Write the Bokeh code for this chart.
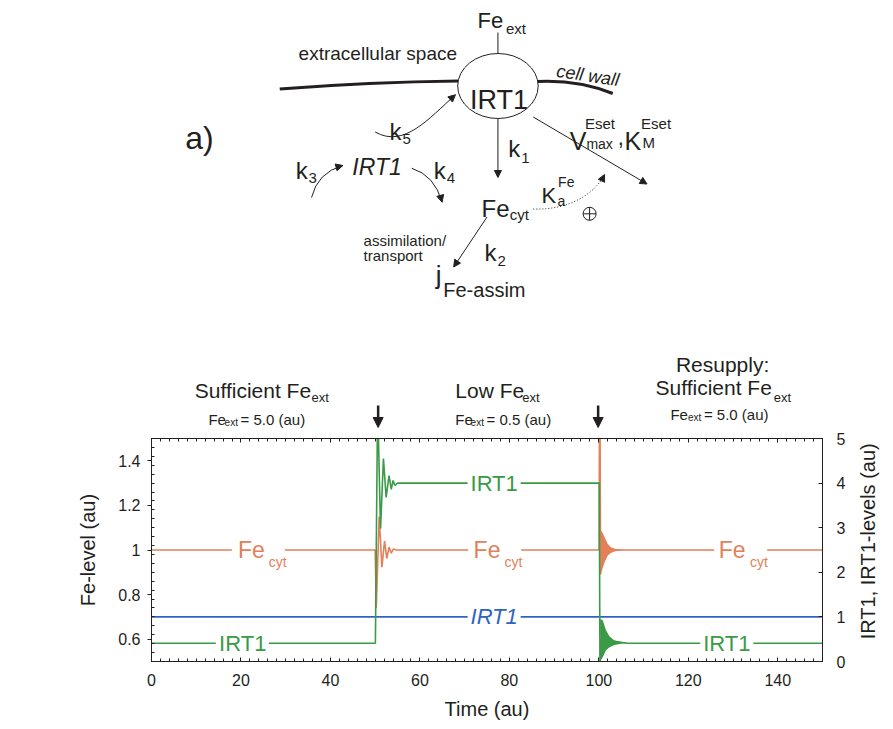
import math
from bokeh.plotting import figure
from bokeh.models import (Range1d, LinearAxis, FixedTicker, CustomJSTickFormatter,
                          Label, Arrow, NormalHead)
from bokeh.layouts import column
from bokeh.embed import file_html
from bokeh.resources import INLINE

# ---------------- data ----------------
# cytosolic iron (left axis, Fe-level)
TIME_FE = [0, 50.0, 50.25, 50.9, 51.5, 52.1, 52.6, 53.1, 53.6, 54.1, 54.7,
           100.05, 100.2, 100.4, 100.5, 150]
FE_CYT = [1.0, 1.0, 0.74, 1.15, 0.923, 1.04, 0.962, 1.013, 0.986, 1.005, 1.0,
          1.0, 1.95, 0.89, 1.0, 1.0]
# fast damped oscillation after resupply, drawn as its envelope
FE_BAND_T = [100.45, 100.9, 101.3, 102.0, 102.7, 103.8, 105.7]
FE_BAND_HI = [1.09, 1.075, 1.057, 1.027, 1.012, 1.005, 1.0]
FE_BAND_LO = [0.893, 0.92, 0.945, 0.975, 0.986, 0.995, 1.0]

# IRT1 protein (right axis)
TIME_IRT = [0, 50.05, 50.55, 51.2, 51.85, 52.45, 53.1, 53.6, 54.0, 54.4, 55.0,
            100.1, 100.25, 100.5, 106.4, 150]
IRT_PROT = [0.41, 0.41, 5.8, 2.98, 4.55, 3.68, 4.17, 3.86, 4.06, 3.95, 4.0,
            4.0, -0.1, 0.5, 0.41, 0.41]
IRT_BAND_T = [100.3, 100.9, 101.6, 102.4, 103.5, 105.0, 106.4]
IRT_BAND_HI = [0.96, 0.92, 0.70, 0.56, 0.47, 0.43, 0.41]
IRT_BAND_LO = [0.0, 0.10, 0.25, 0.32, 0.37, 0.40, 0.41]

# IRT1 mRNA (right axis)
TIME_MRNA = [0, 150]
IRT_MRNA = [1.0, 1.0]

X_TICKS = [0, 20, 40, 60, 80, 100, 120, 140]
X_MINOR = list(range(0, 151, 2))
FE_TICKS = [0.6, 0.8, 1.0, 1.2, 1.4]
FE_MINOR = [round(0.5 + 0.04 * i, 2) for i in range(26)]
IRT_TICKS = [0, 1, 2, 3, 4, 5]

FONT = "Liberation Sans"
INK = "#231f20"
GREEN = "#3a9a46"
ORANGE = "#e2805a"
BLUE = "#2f63c0"

W = 893
FRAME_L, FRAME_R = 151, 826


def label(p, x, y, text, size, color=INK, italic=False, align="left",
          baseline="alphabetic", angle=0.0, **kw):
    p.add_layout(Label(x=x, y=y, text=text, text_font=FONT,
                       text_font_size=f"{size}px",
                       text_font_style="italic" if italic else "normal",
                       text_color=color, text_align=align,
                       text_baseline=baseline, angle=angle, **kw))


def arrow(p, x0, y0, x1, y1, width=1.0, head=7, show_line=True):
    p.add_layout(Arrow(end=NormalHead(size=head, fill_color=INK, line_color=INK,
                                      line_width=1),
                       x_start=x0, y_start=y0, x_end=x1, y_end=y1,
                       line_color=INK, line_width=width,
                       line_alpha=1.0 if show_line else 0.0))


def head(p, x, y, dx, dy, size=7):
    n = math.hypot(dx, dy)
    arrow(p, x - 4 * dx / n, y - 4 * dy / n, x, y, head=size, show_line=False)


# ---------------- (a) scheme + headers of (b) ----------------
pa = figure(width=W, height=430, x_range=Range1d(FRAME_L, FRAME_R),
            y_range=Range1d(430, 0), x_axis_type=None, y_axis_type=None,
            output_backend="svg", title=None, toolbar_location=None,
            min_border_left=FRAME_L, min_border_right=W - FRAME_R,
            min_border_top=0, min_border_bottom=0, outline_line_color=None)

# cell wall and transporter
pa.quadratic(x0=[280], y0=[88.5], x1=[460], y1=[80.5], cx=[370], cy=[81.5],
             line_color=INK, line_width=3.2)
pa.quadratic(x0=[539], y0=[81], x1=[615], y1=[93], cx=[580], cy=[79],
             line_color=INK, line_width=3)
pa.line([499.5, 499.5], [32, 54], line_color=INK, line_width=1)
pa.ellipse(x=[499.5], y=[85.5], width=[81], height=[65], fill_color="white",
           line_color=INK, line_width=1)

# straight arrows
arrow(pa, 499.5, 118.5, 499.5, 177)
arrow(pa, 535, 116.5, 649.5, 183.5)
arrow(pa, 488.5, 216.5, 455, 266.5)
# curved arrows
pa.quadratic(x0=[312], y0=[197], x1=[343.5], y1=[165], cx=[318], cy=[172],
             line_color=INK, line_width=1)
head(pa, 343.5, 165, 25.5, -7)
pa.quadratic(x0=[412.7], y0=[167.7], x1=[443.3], y1=[201.7], cx=[436], cy=[175],
             line_color=INK, line_width=1)
head(pa, 443.3, 201.7, 7.3, 26.7)
pa.bezier(x0=[376], y0=[131.5], x1=[456.7], y1=[94.3], cx0=[405], cy0=[148],
          cx1=[430], cy1=[118], line_color=INK, line_width=1)
head(pa, 456.7, 94.3, 26.7, -23.7)
pa.bezier(x0=[535], y0=[208.5], x1=[606.7], y1=[174], cx0=[572], cy0=[210],
          cx1=[598], cy1=[192], line_color=INK, line_width=1, line_dash="1 2")
head(pa, 606.7, 174, 8.7, -18)
pa.scatter(x=[591.7], y=[213.3], marker="circle_cross", size=13,
           fill_color="white", line_color=INK, line_width=1)

# scheme texts
label(pa, 185, 137, "a)", 32)
label(pa, 479, 20, "Fe", 22)
label(pa, 507.5, 28, "ext", 15)
label(pa, 299, 52.5, "extracellular space", 19)
label(pa, 590, 75, "cell wall", 18, italic=True, align="center",
      baseline="middle", angle=-0.15)
label(pa, 500.5, 99.5, "IRT1", 27, align="center")
label(pa, 390.5, 130.7, "k", 24)
label(pa, 403.5, 138, "5", 15)
label(pa, 296, 170, "k", 24)
label(pa, 309, 177, "3", 15)
label(pa, 353, 166.7, "IRT1", 23, italic=True)
label(pa, 435, 170, "k", 24)
label(pa, 448, 177, "4", 15)
label(pa, 510, 148.3, "k", 24)
label(pa, 523, 157, "1", 15)
label(pa, 483, 208.3, "Fe", 24)
label(pa, 511.5, 213.5, "cyt", 15)
label(pa, 543.3, 195, "K", 22)
label(pa, 559.5, 200, "a", 14)
label(pa, 560, 181.7, "Fe", 14)
label(pa, 571.7, 140, "V", 25)
label(pa, 587, 123.3, "Eset", 15)
label(pa, 588.5, 143.3, "max", 14)
label(pa, 620, 137, ",", 22)
label(pa, 626.7, 140, "K", 25)
label(pa, 643.5, 123.3, "Eset", 15)
label(pa, 645, 141.7, "M", 15)
label(pa, 486, 251.7, "k", 24)
label(pa, 499, 260, "2", 15)
label(pa, 364.3, 239.5, "assimilation/", 15)
label(pa, 364.3, 255, "transport", 15)
label(pa, 437, 274.5, "j", 26)
label(pa, 444.5, 289.5, "Fe-assim", 20)

# headers of (b)
label(pa, 194.5, 389.5, "Sufficient Fe", 21)
label(pa, 312, 396.5, "ext", 13)
label(pa, 208.3, 419, "Fe", 15)
label(pa, 224.5, 422, "ext", 10)
label(pa, 240.6, 419, "= 5.0 (au)", 15)
label(pa, 456.6, 389.5, "Low Fe", 21)
label(pa, 524, 396.5, "ext", 13)
label(pa, 456.6, 419, "Fe", 15)
label(pa, 472, 422, "ext", 10)
label(pa, 488, 419, "= 0.5 (au)", 15)
label(pa, 725.5, 364, "Resupply:", 21, align="center")
label(pa, 658, 387.3, "Sufficient Fe", 21)
label(pa, 777, 396.7, "ext", 13)
label(pa, 673, 414, "Fe", 15)
label(pa, 690.7, 417.3, "ext", 10)
label(pa, 706.7, 414, "= 5.0 (au)", 15)
arrow(pa, 379, 405, 379, 427, width=2.5, head=10)
arrow(pa, 600.3, 405, 600.3, 427, width=2.5, head=10)

# ---------------- (b) time course ----------------
pb = figure(width=W, height=297, x_range=Range1d(0, 150), y_range=Range1d(0.5, 1.5),
            output_backend="svg", toolbar_location=None, title=None,
            min_border_left=FRAME_L, min_border_right=W - FRAME_R, min_border_top=8,
            min_border_bottom=66, outline_line_color=INK, outline_line_width=1)
pb.extra_y_ranges = {"irt": Range1d(0, 5)}
pb.xgrid.visible = False
pb.ygrid.visible = False


def style_axis(ax, tick_in=4, tick_out=0, minor_in=3, standoff=9):
    ax.axis_line_color = INK
    ax.major_tick_line_color = INK
    ax.minor_tick_line_color = INK
    ax.major_tick_in = tick_in
    ax.major_tick_out = tick_out
    ax.minor_tick_in = minor_in
    ax.minor_tick_out = 0
    ax.major_label_text_font = FONT
    ax.major_label_text_font_size = "16px"
    ax.major_label_text_color = INK
    ax.major_label_standoff = standoff
    ax.axis_label_text_font = FONT
    ax.axis_label_text_font_size = "20px"
    ax.axis_label_text_font_style = "normal"
    ax.axis_label_text_color = INK


xa = pb.xaxis[0]
xa.ticker = FixedTicker(ticks=X_TICKS, minor_ticks=X_MINOR)
style_axis(xa, standoff=12)
xa.axis_label = "Time (au)"
xa.axis_label_standoff = 9

ya = pb.yaxis[0]
ya.ticker = FixedTicker(ticks=FE_TICKS, minor_ticks=FE_MINOR)
ya.formatter = CustomJSTickFormatter(code="return String(Math.round(tick*10)/10);")
style_axis(ya, tick_in=0, tick_out=4, minor_in=3, standoff=7)
ya.axis_label = "Fe-level (au)"
ya.axis_label_standoff = 16

ra = LinearAxis(y_range_name="irt", ticker=FixedTicker(ticks=IRT_TICKS, minor_ticks=[]))
style_axis(ra, standoff=14)
ra.axis_label_standoff = 20
RIGHT_TITLE = "IRT1, IRT1-levels (au)"
if "axis_label_align" in LinearAxis.properties():
    # text read bottom-to-top, starting near the lower end of the axis
    ra.axis_label_orientation = math.pi / 2
    ra.axis_label_align = "start"
    ra.axis_label = "\u00a0" * 4 + RIGHT_TITLE
else:
    ra.axis_label = RIGHT_TITLE
pb.add_layout(ra, "right")

ta = LinearAxis(ticker=FixedTicker(ticks=X_TICKS, minor_ticks=X_MINOR),
                formatter=CustomJSTickFormatter(code="return '';"))
style_axis(ta, standoff=0)
pb.add_layout(ta, "above")

pb.line(TIME_MRNA, IRT_MRNA, y_range_name="irt", line_color=BLUE, line_width=1.6)
pb.line(TIME_FE, FE_CYT, line_color=ORANGE, line_width=1.6)
pb.varea(x=FE_BAND_T, y1=FE_BAND_LO, y2=FE_BAND_HI, fill_color=ORANGE)
pb.line(TIME_IRT, IRT_PROT, y_range_name="irt", line_color=GREEN, line_width=1.6)
pb.varea(x=IRT_BAND_T, y1=IRT_BAND_LO, y2=IRT_BAND_HI, fill_color=GREEN,
         y_range_name="irt")

# white gaps behind in-line labels
pb.rect(x=[23.9, 76.7, 131.7], y=[1.0, 1.0, 1.0], width=53, height=20,
        width_units="screen", height_units="screen", fill_color="white", line_color=None)
pb.rect(x=[20.3, 76.6, 128.6, 76.6], y=[0.41, 4.0, 0.41, 1.0], width=53, height=20,
        width_units="screen", height_units="screen", fill_color="white",
        line_color=None, y_range_name="irt")

for fx, cx in [(19.33, 26.2), (72.0, 78.9), (126.8, 133.8)]:
    label(pb, fx, 1.0, "Fe", 23, color=ORANGE, baseline="middle")
    label(pb, cx, 0.944, "cyt", 14, color=ORANGE)
for tx, ty in [(20.4, 0.41), (76.6, 4.0), (128.6, 0.41)]:
    label(pb, tx, ty, "IRT1", 22, color=GREEN, align="center", baseline="middle",
          y_range_name="irt")
label(pb, 76.6, 1.0, "IRT1", 22, color=BLUE, italic=True, align="center",
      baseline="middle", y_range_name="irt")

label(pb, -30.9, 1.049, "b)", 32)

layout = column(pa, pb)
open("out.html", "w").write(file_html(layout, INLINE))
